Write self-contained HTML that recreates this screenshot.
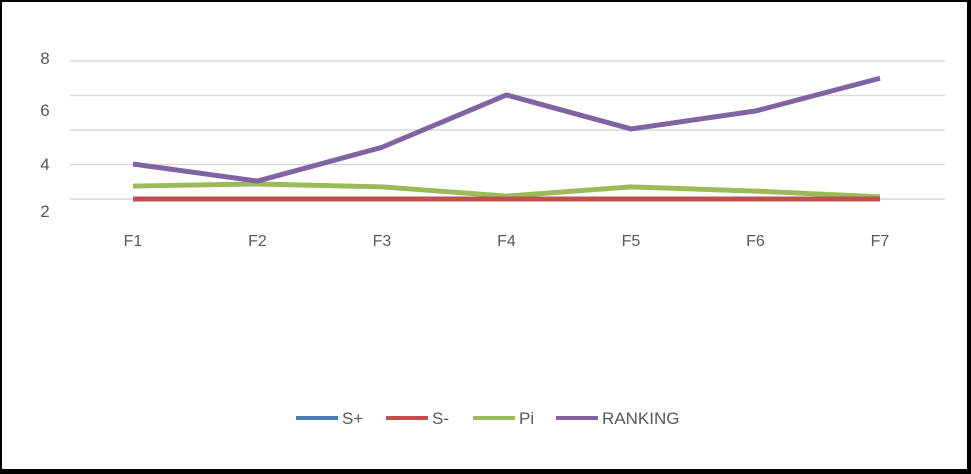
<!DOCTYPE html>
<html><head><meta charset="utf-8"><style>
body{margin:0;background:#fff;}
svg{display:block;font-family:"Liberation Sans",sans-serif;}
</style></head><body>
<svg id="chart" width="971" height="474" viewBox="0 0 971 474">
<rect x="1" y="1" width="967" height="469" fill="#fff" stroke="#000" stroke-width="2"/>
<rect x="0" y="469" width="971" height="5" fill="#000"/>
<rect x="967" y="0" width="4" height="474" fill="#000"/>
<g id="grid"></g><g id="ylabels"></g><g id="xlabels"></g><g id="series"></g>
<g id="legend"></g>
</svg>
<script>
const categories=["F1","F2","F3","F4","F5","F6","F7"];
const sPlus=[0,0,0,0,0,0,0];
const sMinus=[0,0,0,0,0,0,0];
const pi=[0.75,0.87,0.7,0.17,0.7,0.46,0.12];
const ranking=[2.03,1.04,3.0,6.03,4.06,5.1,7.0];
const gridValues=[0,2,4,6,8];
const yTickLabels=["8","6","4","2"];
const seriesNames=["S+","S-","Pi","RANKING"];
const NS="http://www.w3.org/2000/svg";
const x=i=>133+i*124.5;
const y=v=>199-v*17.25;
function mk(t,a,p){const e=document.createElementNS(NS,t);for(const k in a)e.setAttribute(k,a[k]);p.appendChild(e);return e;}
const grid=document.getElementById('grid');
gridValues.forEach(v=>{const l=mk('line',{x1:70,x2:945,y1:y(v),y2:y(v),stroke:'#d9d9d9','stroke-width':1.5},grid);

});
const labelY=[58,110,164,211];
const yl=document.getElementById('ylabels');
yTickLabels.forEach((t,i)=>{const e=mk('text',{x:45,y:labelY[i]+6,'text-anchor':'middle','font-size':17,fill:'#595959'},yl);e.textContent=t;

});
const xl=document.getElementById('xlabels');
categories.forEach((c,i)=>{const e=mk('text',{x:x(i),y:246,'text-anchor':'middle','font-size':16,fill:'#595959'},xl);e.textContent=c;

});
const colors=["#4a7ebb","#c0504d","#9bbb59","#8064a2"];
const data=[sPlus,sMinus,pi,ranking];
const sg=document.getElementById('series');
[0,2,1,3].forEach(k=>{const d=data[k].map((v,i)=>(i?'L':'M')+x(i)+','+y(v)).join(' ');
const p=mk('path',{d:d,fill:'none',stroke:colors[k],'stroke-width':5,'stroke-linejoin':'round'},sg);

});
const lg=document.getElementById('legend');
const lx=[296,386,473,556];
seriesNames.forEach((n,i)=>{const l=mk('line',{x1:lx[i],x2:lx[i]+42,y1:418,y2:418,stroke:colors[i],'stroke-width':4},lg);


const t=mk('text',{x:lx[i]+46,y:424,'font-size':17,fill:'#595959'},lg);t.textContent=n;

});
</script>
</body></html>
